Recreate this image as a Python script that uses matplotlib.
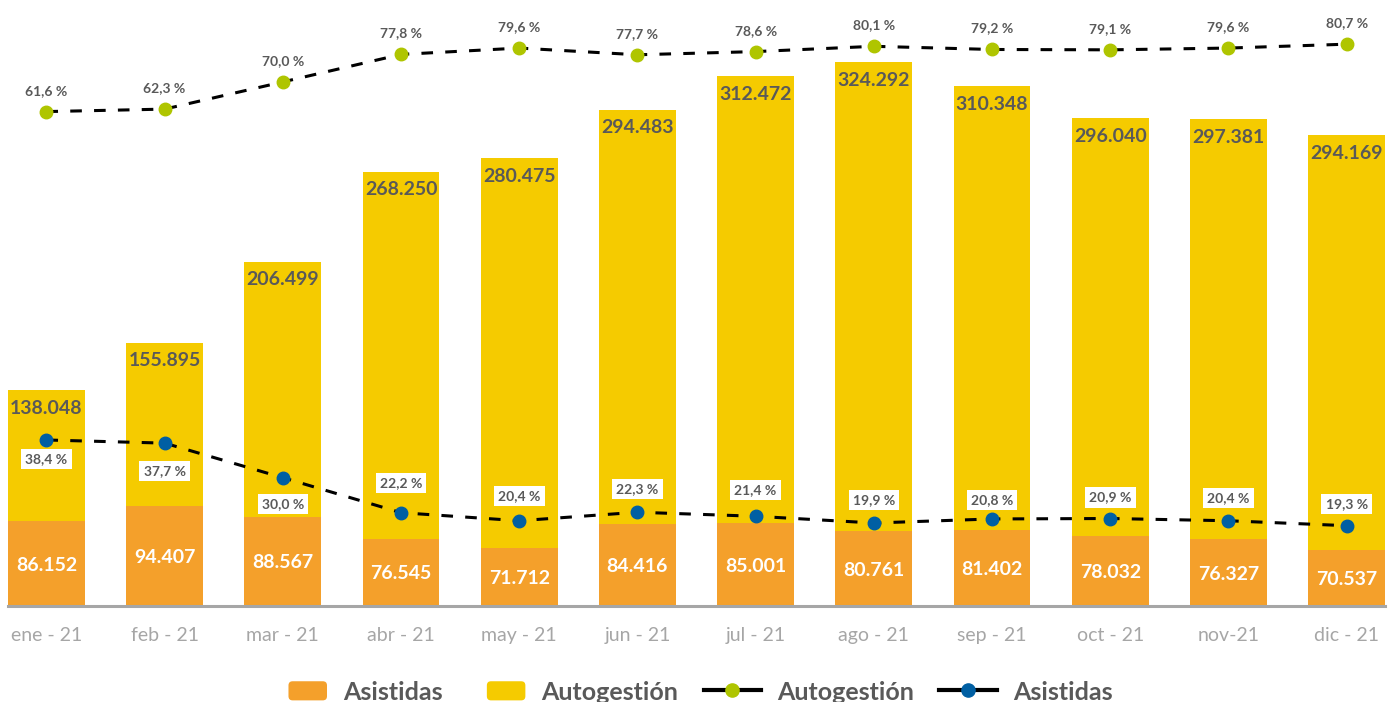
import matplotlib
matplotlib.use("Agg")
import matplotlib.pyplot as plt
from matplotlib.lines import Line2D
from matplotlib.patches import Patch, FancyBboxPatch
from matplotlib.legend_handler import HandlerPatch

months = ['ene - 21', 'feb - 21', 'mar - 21', 'abr - 21', 'may - 21', 'jun - 21',
          'jul - 21', 'ago - 21', 'sep - 21', 'oct - 21', 'nov-21', 'dic - 21']
asistidas = [86152, 94407, 88567, 76545, 71712, 84416, 85001, 80761, 81402, 78032, 76327, 70537]
autogestion = [138048, 155895, 206499, 268250, 280475, 294483, 312472, 324292, 310348, 296040, 297381, 294169]
pct_auto = [61.6, 62.3, 70.0, 77.8, 79.6, 77.7, 78.6, 80.1, 79.2, 79.1, 79.6, 80.7]
pct_asis = [38.4, 37.7, 30.0, 22.2, 20.4, 22.3, 21.4, 19.9, 20.8, 20.9, 20.4, 19.3]

# label offsets (pixels) for the boxed Asistidas percentages
asis_label_dy = [-19, -28, -26, 30, 25, 23, 26, 23, 19, 21, 23, 22]

ORANGE = '#F4A02B'
YELLOW = '#F5CB00'
GREEN = '#AFC500'
BLUE = '#005FA3'
TXT = '#595959'
LIGHT = '#A6A6A6'

plt.rcParams['font.family'] = ['Lato', 'DejaVu Sans']


def fmt_num(v):
    return f"{v:,}".replace(',', '.')


def fmt_pct(p):
    return f"{p:.1f} %".replace('.', ',')


x = list(range(len(months)))
totals = [a + b for a, b in zip(asistidas, autogestion)]

fig = plt.figure(figsize=(13.92, 7.02), dpi=100)
ax_tot = fig.add_axes([8 / 1392, 96 / 702, 1377 / 1392, 606 / 702])
ax_asi = ax_tot.twinx()
ax_g = ax_tot.twinx()
ax_b = ax_tot.twinx()

ax_tot.set_xlim(-0.325, 11.325)
ax_tot.set_ylim(104968, 104968 + 606 * 552)
ax_asi.set_ylim(40300, 40300 + 606 * 540)
ax_g.set_ylim(-78.5, -78.5 + 606 / 3.529)
ax_b.set_ylim(1.4, 1.4 + 606 / 4.487)

for a in (ax_tot, ax_asi, ax_g, ax_b):
    for s in a.spines.values():
        s.set_visible(False)
    a.set_yticks([])
    a.patch.set_visible(False)

ax_b.spines['bottom'].set_visible(True)
ax_b.spines['bottom'].set_color(LIGHT)
ax_b.spines['bottom'].set_linewidth(2.2)

ax_tot.set_xticks(x)
ax_tot.set_xticklabels(months, fontsize=14, color=LIGHT)
ax_tot.tick_params(axis='x', length=0, pad=15)

# bars
ax_tot.bar(x, totals, width=0.65, color=YELLOW)
ax_asi.bar(x, asistidas, width=0.65, color=ORANGE)

for i in x:
    ax_tot.annotate(fmt_num(autogestion[i]), (i, totals[i]), xytext=(0, -16.5),
                    textcoords='offset pixels', ha='center', va='center_baseline',
                    fontsize=14, fontweight='bold', color=TXT)
    mid = (ax_asi.get_ylim()[0] + asistidas[i]) / 2
    ax_asi.text(i, mid, fmt_num(asistidas[i]), ha='center', va='center_baseline',
                fontsize=14, fontweight='bold', color='white')

# lines
lg, = ax_g.plot(x, pct_auto, color='black', lw=2.2, marker='o', markersize=9,
                markerfacecolor=GREEN, markeredgecolor=GREEN)
lg.set_dashes((3.8, 4.0))
lb, = ax_b.plot(x, pct_asis, color='black', lw=2.2, marker='o', markersize=9,
                markerfacecolor=BLUE, markeredgecolor=BLUE)
lb.set_dashes((3.8, 4.0))

for i in x:
    ax_g.annotate(fmt_pct(pct_auto[i]), (i, pct_auto[i]), xytext=(0, 17),
                  textcoords='offset pixels', ha='center', va='baseline',
                  fontsize=10, fontweight='bold', color=TXT)
    ax_b.annotate(fmt_pct(pct_asis[i]), (i, pct_asis[i]), xytext=(0, asis_label_dy[i]),
                  textcoords='offset pixels', ha='center', va='center',
                  fontsize=10, fontweight='bold', color=TXT,
                  bbox=dict(boxstyle='square,pad=0.3', fc='white', ec='none'))


def box_patch(legend, orig_handle, xdescent, ydescent, width, height, fontsize):
    w = width * 0.67
    return FancyBboxPatch((width - w - xdescent, -ydescent), w, height,
                          boxstyle='round,pad=0,rounding_size=3')


handles = [
    Patch(facecolor=ORANGE, label='Asistidas'),
    Patch(facecolor=YELLOW, label='Autogestión'),
    Line2D([], [], color='black', lw=3, marker='o', markersize=9.5,
           markerfacecolor=GREEN, markeredgecolor=GREEN, label='Autogestión'),
    Line2D([], [], color='black', lw=3, marker='o', markersize=9.5,
           markerfacecolor=BLUE, markeredgecolor=BLUE, label='Asistidas'),
]
fig.legend(handles=handles, loc='center', bbox_to_anchor=(691 / 1392, 1 - 692 / 702),
           ncol=4, frameon=False, prop={'weight': 'bold', 'size': 18}, labelcolor=TXT,
           handlelength=2.3, handleheight=0.8, handletextpad=0.65, columnspacing=1.0,
           handler_map={Patch: HandlerPatch(patch_func=box_patch)})

fig.savefig('out.png', dpi=100)
